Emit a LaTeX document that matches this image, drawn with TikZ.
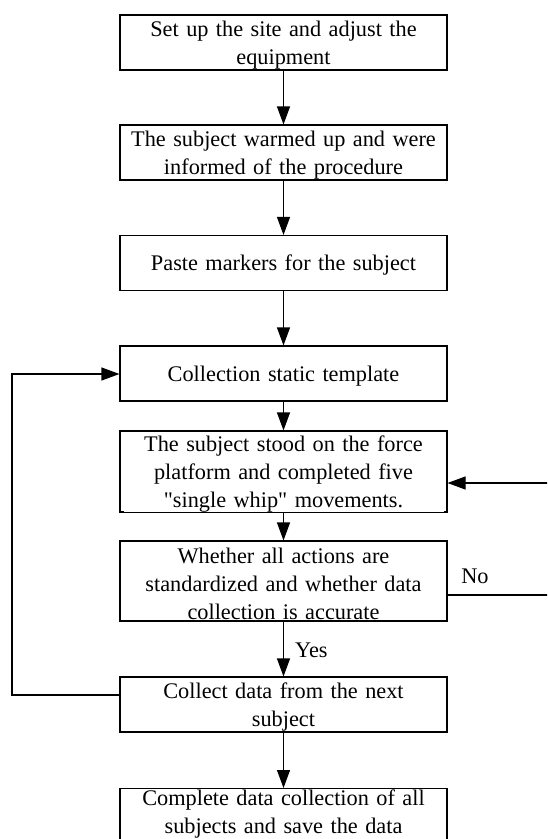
\documentclass[tikz,border=0pt]{standalone}
\usepackage{fontspec}
\setmainfont{Liberation Serif}[Ligatures=TeXOff]
\usetikzlibrary{arrows.meta}
\begin{document}
\begin{tikzpicture}[x=1pt,y=1pt,
  stepbox/.style={draw, line width=1.1pt, rectangle, minimum width=327pt, inner sep=0pt},
  txt/.style={inner sep=0pt, fill=white, text width=320pt, align=center, font=\fontsize{22.3}{28}\selectfont},
  conn/.style={line width=1.1pt, -{Triangle[length=18pt,width=13pt]}},
  lbl/.style={font=\fontsize{22.3}{28}\selectfont, inner sep=0pt}]
\useasboundingbox (0,0) rectangle (547,-839);
\clip (0,0) rectangle (547,-839);
\node[stepbox, minimum height=55pt] (b1) at (283.5,-42.5) {};
\node[stepbox, minimum height=55pt] (b2) at (283.5,-152.5) {};
\node[stepbox, minimum height=55pt] (b3) at (283.5,-263) {};
\node[stepbox, minimum height=55pt] (b4) at (283.5,-373.5) {};
\node[stepbox, minimum height=81pt] (b5) at (283.5,-471.5) {};
\node[stepbox, minimum height=80pt] (b6) at (283.5,-581) {};
\node[stepbox, minimum height=55pt] (b7) at (283.5,-704.5) {};
\node[stepbox, minimum height=70pt, anchor=north] (b8) at (283.5,-788) {};
\draw[conn] (b1.south) -- (b2.north);
\draw[conn] (b2.south) -- (b3.north);
\draw[conn] (b3.south) -- (b4.north);
\draw[conn] (b4.south) -- (b5.north);
\draw[conn] (b5.south) -- (b6.north);
\draw[conn] (b6.south) -- (b7.north);
\draw[conn] (b7.south) -- (b8.north);
\node[txt] (t1) at ([yshift=-2.5pt]b1.center) {Set up the site and adjust the\\equipment};
\node[txt] (t2) at ([yshift=-2.5pt]b2.center) {The subject warmed up and were\\informed of the procedure};
\node[txt] (t3) at ([yshift=-2.5pt]b3.center) {Paste markers for the subject};
\node[txt] (t4) at ([yshift=-2.5pt]b4.center) {Collection static template};
\node[txt] (t5) at ([yshift=-2.5pt]b5.center) {The subject stood on the force\\platform and completed five\\"single whip" movements.};
\node[txt] (t6) at ([yshift=-2.5pt]b6.center) {Whether all actions are\\standardized and whether data\\collection is accurate};
\node[txt] (t7) at ([yshift=-2.5pt]b7.center) {Collect data from the next\\subject};
\node[txt, anchor=north] (t8) at ([yshift=-1.5pt]b8.north) {Complete data collection of all\\subjects and save the data};
\node[lbl, anchor=west] (yes) at (295,-650) {Yes};
\coordinate (lc1) at (12,-695);
\coordinate (lc2) at (12,-374);
\draw[conn] (b7.west |- lc1) -- (lc1) -- (lc2) -- (b4.west |- lc2);
\coordinate (rin) at (548,-483);
\coordinate (rout) at (548,-595);
\draw[conn] (rin) -- (b5.east |- rin);
\draw[line width=1.1pt] (b6.east |- rout) -- (rout);
\node[lbl] (no) at (475,-576) {No};
\end{tikzpicture}
\end{document}
